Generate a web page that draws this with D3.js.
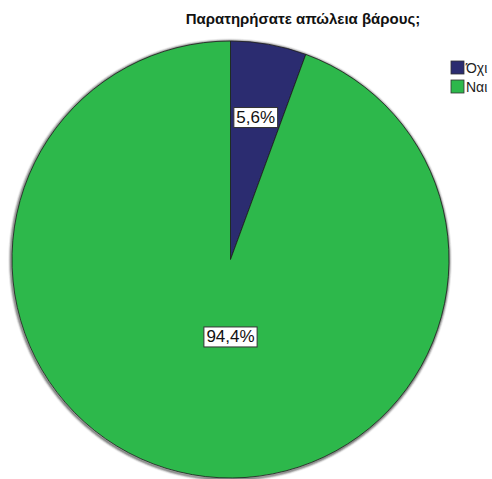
<!DOCTYPE html>
<html>
<head>
<meta charset="utf-8">
<script src="https://cdn.jsdelivr.net/npm/d3@7"></script>
<style>
  html, body { margin: 0; padding: 0; background: #fff; }
  svg { display: block; }
</style>
</head>
<body>
<svg id="chart" width="492" height="479"></svg>
<script>
// Survey answers: share of respondents per answer (percent)
const categories = ["Όχι", "Ναι"];
const percents = [5.6, 94.4];
const colors = ["#2b2c70", "#2db84b"];
const titleText = "Παρατηρήσατε απώλεια βάρους;";
// radial position of each value label, as a fraction of the radius
const labelRadius = [0.66, 0.36];

const svg = d3.select("#chart");
const cx = 230.5, cy = 259.5, r = 218.5;

svg.append("text")
  .attr("x", 303).attr("y", 24)
  .attr("text-anchor", "middle")
  .attr("font-family", "Liberation Sans, Arial, sans-serif")
  .attr("font-weight", "bold")
  .attr("font-size", 15)
  .attr("fill", "#111")
  .text(titleText);

const pie = d3.pie().sort(null).value(d => d)(percents);
const arc = d3.arc().innerRadius(0).outerRadius(r);

const g = svg.append("g").attr("transform", `translate(${cx},${cy})`);

// soft shadow along the rim
const defs = svg.append("defs");
defs.append("filter").attr("id", "rim")
  .append("feGaussianBlur").attr("stdDeviation", 0.8);
g.append("circle").attr("r", r + 0.5).attr("cx", -0.5).attr("cy", 0.8)
  .attr("fill", "none").attr("stroke", "#222").attr("stroke-width", 1.6)
  .attr("filter", "url(#rim)");

g.selectAll("path.slice").data(pie).enter().append("path")
  .attr("class", "slice")
  .attr("d", arc)
  .attr("fill", (d, i) => colors[i])
  .attr("stroke", "#1a1a1a")
  .attr("stroke-width", 0.8);

// value labels in white boxes
pie.forEach((d, i) => {
  const a = (d.startAngle + d.endAngle) / 2;
  const lr = r * labelRadius[i];
  const x = i === 0 ? Math.sin(a) * lr : 0;
  const y = -Math.cos(a) * lr;
  const lg = g.append("g").attr("transform", `translate(${x},${y})`);
  const t = lg.append("text")
    .attr("text-anchor", "middle")
    .attr("dominant-baseline", "central")
    .attr("font-family", "Liberation Sans, Arial, sans-serif")
    .attr("font-size", 17)
    .attr("fill", "#111")
    .text(d3.format(".1f")(percents[i]).replace(".", ",") + "%");
  const bb = t.node().getBBox();
  lg.insert("rect", "text")
    .attr("x", bb.x - 2.5).attr("y", bb.y - 0.5)
    .attr("width", bb.width + 5).attr("height", bb.height + 1)
    .attr("fill", "#fff").attr("stroke", "#333").attr("stroke-width", 1);
});

// legend
const leg = svg.append("g").attr("transform", "translate(451,61)");
categories.forEach((c, i) => {
  const row = leg.append("g").attr("transform", `translate(0,${i * 19})`);
  row.append("rect").attr("width", 13).attr("height", 13)
    .attr("fill", colors[i]).attr("stroke", "#333").attr("stroke-width", 0.8);
  row.append("text").attr("x", 15).attr("y", 12)
    .attr("font-family", "Liberation Sans, Arial, sans-serif")
    .attr("font-size", 14)
    .attr("fill", "#222")
    .text(c);
});
</script>
</body>
</html>
